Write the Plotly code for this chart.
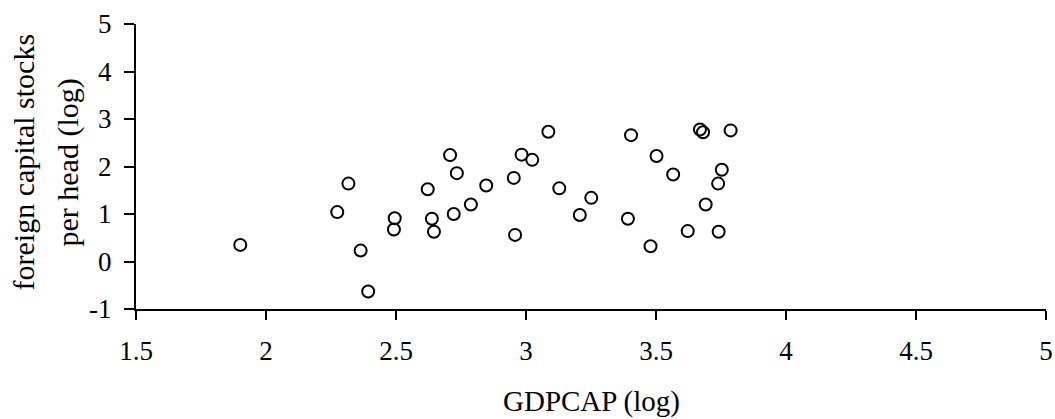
import plotly.graph_objects as go

gdpcap_log = [1.901, 2.274, 2.317, 2.364, 2.393, 2.495, 2.492, 2.622, 2.638, 2.646,
              2.708, 2.734, 2.722, 2.788, 2.847, 2.953, 2.958, 2.983, 3.024, 3.086,
              3.128, 3.207, 3.251, 3.392, 3.404, 3.479, 3.502, 3.566, 3.622, 3.669,
              3.681, 3.691, 3.739, 3.753, 3.741, 3.787]
fcs_log = [0.35, 1.04, 1.64, 0.23, -0.63, 0.91, 0.675, 1.52, 0.90, 0.625,
           2.24, 1.86, 1.00, 1.20, 1.60, 1.76, 0.56, 2.25, 2.14, 2.73,
           1.54, 0.98, 1.34, 0.90, 2.66, 0.32, 2.22, 1.83, 0.64, 2.78,
           2.72, 1.20, 1.64, 1.93, 0.625, 2.76]

x_ticks = [1.5, 2, 2.5, 3, 3.5, 4, 4.5, 5]
x_ticklabels = ["1.5", "2", "2.5", "3", "3.5", "4", "4.5", "5"]
y_ticks = [-1, 0, 1, 2, 3, 4, 5]
y_ticklabels = ["-1", "0", "1", "2", "3", "4", "5"]
x_title = "GDPCAP (log)"
y_title_lines = ["foreign capital stocks", "per head (log)"]

FAM = "Liberation Serif"
tick_font = dict(family=FAM, size=27, color="black")
xtitle_font = dict(family=FAM, size=29, color="black")
ytitle_font = dict(family=FAM, size=30, color="black")

fig = go.Figure(go.Scatter(
    x=gdpcap_log, y=fcs_log, mode="markers",
    marker=dict(symbol="circle-open", size=12, color="black", line=dict(width=2, color="black")),
    showlegend=False, hoverinfo="x+y"))

fig.update_layout(
    width=1055, height=419,
    margin=dict(l=136, r=9, t=24, b=110),
    paper_bgcolor="white", plot_bgcolor="white",
    font=dict(family=FAM, size=27, color="black"),
    xaxis=dict(range=[1.5, 5], tickvals=x_ticks, ticktext=x_ticklabels, automargin=False,
               showgrid=False, zeroline=False, showline=True, linecolor="black", linewidth=2,
               ticks="outside", ticklen=9, tickwidth=2, tickcolor="black",
               tickfont=tick_font, ticklabelstandoff=8),
    yaxis=dict(range=[-1, 5], tickvals=y_ticks, ticktext=y_ticklabels, automargin=False,
               showgrid=False, zeroline=False, showline=True, linecolor="black", linewidth=2,
               ticks="outside", ticklen=10, tickwidth=2, tickcolor="black",
               tickfont=tick_font, ticklabelstandoff=7),
    annotations=[
        dict(text=x_title, xref="paper", yref="paper", x=0.5, y=0,
             xanchor="center", yanchor="top", yshift=-74, showarrow=False, font=xtitle_font),
        dict(text=y_title_lines[0], xref="paper", yref="paper",
             x=0, y=0.5, xanchor="center", yanchor="middle", xshift=-113, yshift=4,
             textangle=-90, showarrow=False, font=ytitle_font),
        dict(text=y_title_lines[1], xref="paper", yref="paper",
             x=0, y=0.5, xanchor="center", yanchor="middle", xshift=-69, yshift=4,
             textangle=-90, showarrow=False, font=ytitle_font),
    ],
)

fig.write_html("out.html", config={"displayModeBar": False},
               post_script="document.body.style.margin='0px';")
